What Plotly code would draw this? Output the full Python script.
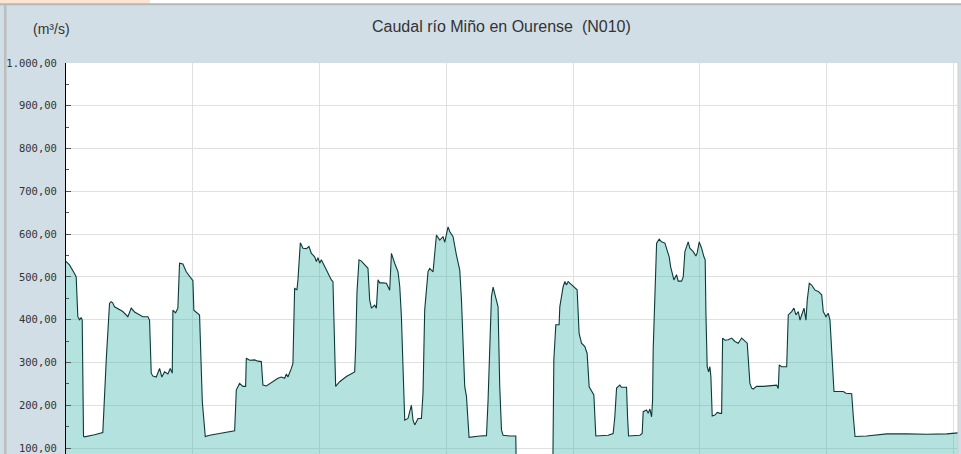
import plotly.graph_objects as go

# Caudal río Miño en Ourense (N010) - hours since start of the week vs m3/s
hours = [
    0.0, 0.66, 1.61, 1.93, 2.24, 2.56, 2.88, 3.07, 3.32, 3.51, 5.40, 6.97,
    7.62, 8.24, 8.53, 8.81, 9.19, 10.14, 10.76, 11.71, 12.35, 12.98, 13.93, 14.55,
    15.50, 15.82, 16.14, 16.45, 17.09, 17.72, 18.15, 18.66, 19.29, 19.74, 20.12, 20.24,
    20.75, 21.18, 21.50, 22.13, 22.77, 23.72, 24.03, 24.21, 24.97, 25.29, 25.81, 26.37,
    27.19, 31.60, 31.93, 32.25, 32.87, 33.50, 34.01, 34.14, 34.77, 35.71, 36.34, 36.98,
    37.29, 37.93, 39.18, 40.13, 40.77, 41.40, 41.72, 42.02, 42.67, 42.97, 43.29, 43.73,
    43.92, 44.37, 44.87, 45.51, 46.00, 46.46, 47.08, 47.41, 47.71, 48.03, 48.35, 48.98,
    49.60, 50.25, 50.55, 50.87, 51.06, 51.82, 53.09, 54.66, 54.85, 55.10, 55.48, 55.93,
    56.56, 57.18, 57.50, 57.83, 58.45, 58.77, 59.08, 59.40, 60.02, 60.67, 61.29, 61.62,
    62.24, 62.87, 63.20, 63.51, 63.81, 64.14, 64.76, 65.40, 65.71, 66.03, 66.66, 67.30,
    67.60, 67.92, 68.55, 68.87, 69.50, 70.14, 70.77, 71.39, 71.72, 72.34, 72.66, 73.29,
    73.93, 74.56, 74.88, 75.18, 75.50, 75.83, 76.32, 78.35, 79.62, 79.92, 80.24, 80.56,
    80.87, 81.51, 81.81, 82.13, 82.46, 82.76, 84.03, 85.17, 85.26, 92.18, 92.37, 92.75,
    93.37, 93.50, 93.83, 94.13, 94.45, 94.77, 95.08, 95.72, 96.35, 96.78, 97.16, 97.61,
    98.24, 98.68, 99.06, 99.51, 99.95, 100.32, 102.65, 103.60, 103.92, 104.25, 104.87, 105.19,
    106.14, 106.33, 106.52, 108.66, 109.10, 109.29, 109.93, 110.23, 110.56, 110.88, 111.07, 111.18,
    111.51, 111.83, 112.32, 112.77, 113.40, 113.83, 114.21, 114.48, 114.86, 115.10, 115.61, 115.92,
    116.56, 116.87, 117.19, 117.81, 118.13, 118.76, 119.27, 119.52, 119.90, 120.35, 120.79, 121.03,
    121.17, 121.41, 121.68, 121.92, 122.11, 122.36, 122.87, 123.31, 123.82, 124.14, 124.33, 124.77,
    125.39, 126.04, 126.66, 127.29, 127.93, 128.75, 128.99, 129.50, 129.83, 130.13, 130.77, 132.02,
    133.29, 134.56, 134.87, 135.05, 135.51, 136.46, 136.76, 137.40, 137.84, 138.22, 138.66, 138.98,
    139.30, 139.74, 140.11, 140.36, 140.74, 141.19, 141.82, 142.44, 143.09, 143.39, 143.90, 144.34,
    144.66, 144.98, 145.42, 146.23, 147.18, 147.69, 148.77, 149.08, 149.40, 151.61, 155.40, 159.19,
    162.98, 166.77, 169.48,
]
caudal = [
    536, 528, 508, 500, 407, 400, 405, 399, 127, 126, 131, 136,
    306, 438, 442, 440, 430, 424, 419, 407, 427, 418, 412, 407,
    407, 399, 275, 268, 266, 286, 266, 278, 273, 286, 275, 422,
    416, 427, 532, 530, 512, 494, 491, 422, 415, 411, 208, 127,
    130, 140, 140, 236, 251, 244, 244, 310, 305, 306, 303, 302,
    247, 245, 255, 263, 266, 263, 273, 266, 286, 298, 473, 470,
    493, 580, 567, 566, 571, 555, 547, 536, 545, 532, 540, 524,
    508, 493, 489, 337, 244, 255, 267, 278, 337, 465, 540, 537,
    528, 520, 446, 427, 434, 427, 493, 486, 486, 485, 469, 555,
    532, 512, 477, 407, 290, 165, 169, 200, 165, 154, 169, 169,
    228, 423, 512, 520, 512, 598, 586, 594, 581, 617, 606, 594,
    551, 516, 446, 329, 244, 220, 125, 128, 129, 212, 345, 454,
    476, 446, 430, 243, 142, 130, 128, 128, 50, 50, 306, 388,
    388, 430, 454, 477, 489, 481, 489, 481, 473, 470, 368, 345,
    337, 321, 243, 232, 224, 128, 130, 134, 173, 240, 247, 242,
    242, 173, 128, 130, 134, 185, 189, 181, 191, 173, 212, 329,
    462, 579, 588, 582, 579, 563, 547, 524, 500, 493, 505, 490,
    490, 500, 559, 582, 567, 559, 549, 556, 582, 567, 547, 540,
    415, 290, 278, 290, 267, 175, 177, 183, 181, 181, 357, 352,
    353, 357, 349, 345, 357, 349, 345, 251, 240, 238, 244, 244,
    245, 247, 239, 294, 290, 290, 411, 419, 427, 411, 419, 399,
    411, 427, 399, 446, 485, 481, 469, 466, 458, 419, 407, 415,
    399, 329, 232, 232, 232, 228, 227, 173, 127, 128, 133, 133,
    132, 133, 136,
]

y_ticks = [100, 200, 300, 400, 500, 600, 700, 800, 900, 1000]
y_labels = ["100,00", "200,00", "300,00", "400,00", "500,00",
            "600,00", "700,00", "800,00", "900,00", "1.000,00"]

# page layout helpers (pixels -> paper coords)
L, T = 66, 63
PW, PH = 961 - L - 3, 454 - T


def px(x):
    return (x - L) / PW


def py(y):
    return (454 - y) / PH


bg = "#d1dee6"
grid = "#e0e0e0"

fig = go.Figure()
fig.add_trace(go.Scatter(
    x=hours, y=caudal, mode="lines",
    line=dict(color="#0b3b39", width=1.1),
    fill="tozeroy", fillcolor="rgba(64,182,176,0.4)",
    hoverinfo="x+y", showlegend=False,
))

shapes = [
    # top strip of the page above the chart box
    dict(type="rect", xref="paper", yref="paper", x0=px(0), x1=px(150), y0=py(3.5), y1=py(-1),
         fillcolor="#fbe4d2", line_width=0, layer="below"),
    dict(type="rect", xref="paper", yref="paper", x0=px(150), x1=px(962), y0=py(3.5), y1=py(-1),
         fillcolor="white", line_width=0, layer="below"),
    dict(type="rect", xref="paper", yref="paper", x0=px(0), x1=px(962), y0=py(5.3), y1=py(3.3),
         fillcolor="#b8b8b8", line_width=0),
    dict(type="rect", xref="paper", yref="paper", x0=px(4), x1=px(6.5), y0=py(455), y1=py(5),
         fillcolor="#bdbdbd", line_width=0),
    # right border of the plot area
    dict(type="line", xref="paper", yref="paper", x0=1, x1=1, y0=0, y1=1,
         line=dict(color="#d0d0d0", width=1)),
]

fig.update_layout(
    width=961, height=454,
    margin=dict(l=L, r=3, t=T, b=0, pad=0),
    paper_bgcolor=bg, plot_bgcolor="white",
    shapes=shapes,
    annotations=[
        dict(text="Caudal río Miño en Ourense  (N010)", xref="paper", yref="paper",
             x=px(501), y=py(26), xanchor="center", yanchor="middle", showarrow=False,
             font=dict(family="Liberation Sans, Arial", size=16, color="#333333")),
        dict(text="(m³/s)", xref="paper", yref="paper",
             x=px(51), y=py(29), xanchor="center", yanchor="middle", showarrow=False,
             font=dict(family="Liberation Sans, Arial", size=14, color="#333333")),
    ],
    xaxis=dict(
        range=[0, 168.9], tick0=0, dtick=24, showgrid=True, gridcolor=grid, gridwidth=1,
        showticklabels=False, zeroline=False, showline=False, ticks="", automargin=False,
    ),
    yaxis=dict(
        range=[86, 1000], tickvals=y_ticks, ticktext=y_labels, automargin=False,
        ticks="inside", ticklen=5, tickcolor="#555555", ticklabelstandoff=6,
        showline=True, linecolor="black", linewidth=1,
        showgrid=True, gridcolor=grid, gridwidth=1, zeroline=False,
        tickfont=dict(family="DejaVu Sans Mono", size=10.5, color="#333333"),
        minor=dict(dtick=50, tick0=0, ticks="inside", ticklen=3, tickcolor="#555555", showgrid=False),
    ),
)

# the page body has a default 8px margin; drop it so the chart sits at the corner
fig.write_html("out.html", config={"displayModeBar": False},
               post_script="document.body.style.margin='0';")
